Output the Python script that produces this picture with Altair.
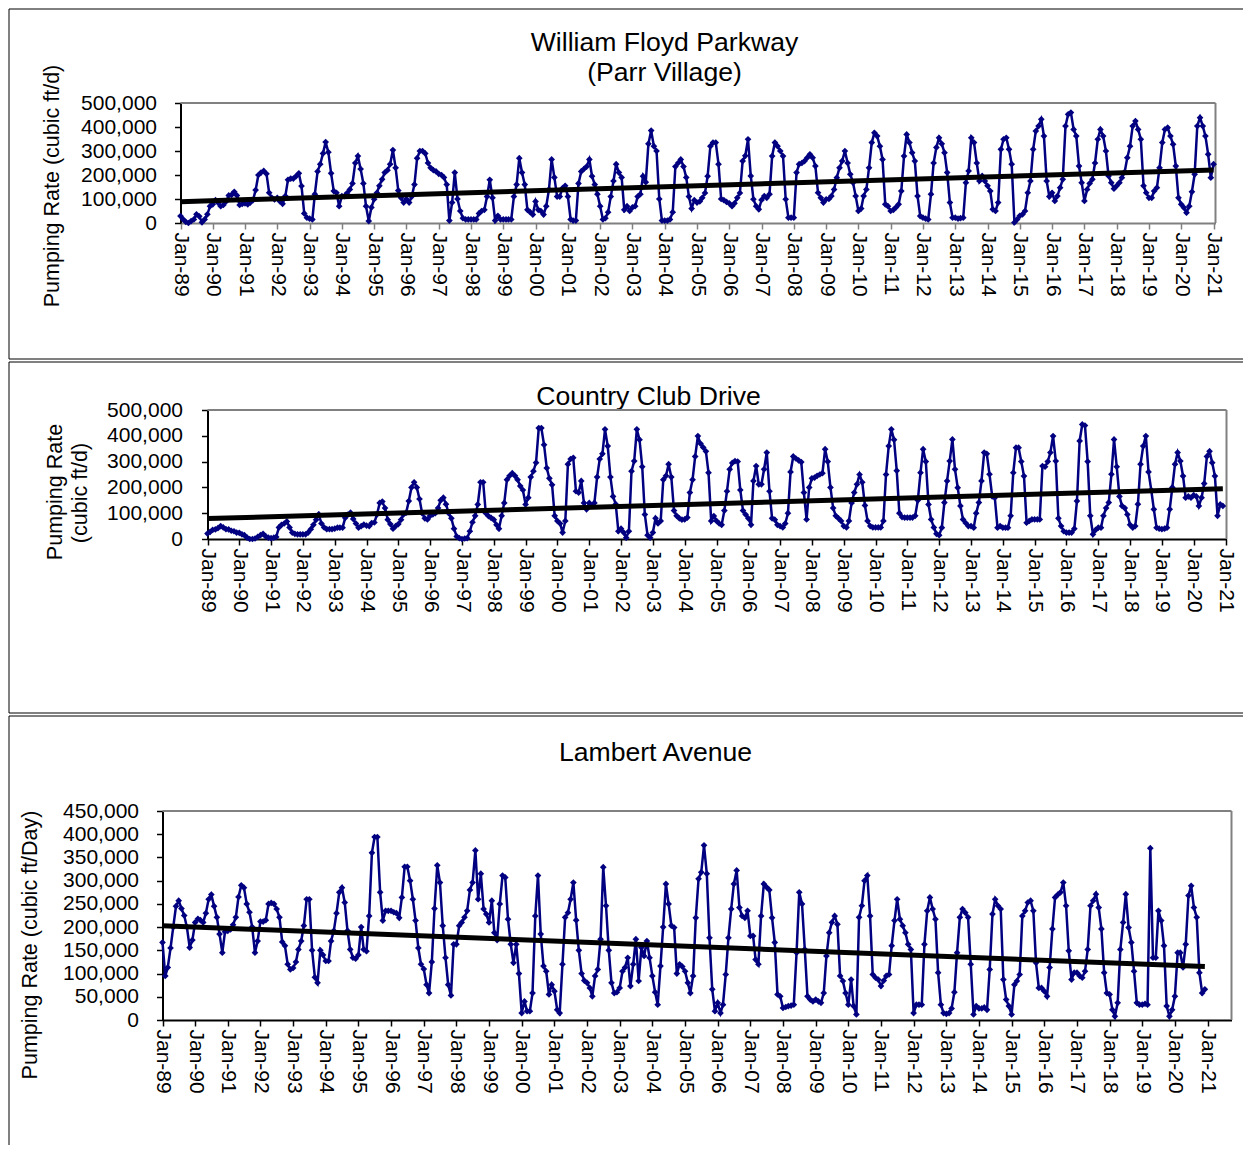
import altair as alt
import pandas as pd

FONT = "Liberation Sans"
NAVY = "#000080"

# ---------------- data (thousand cubic ft/d, one row per year, Jan..Dec) ----------------
wfp_rates = [
    [29, 15, 5, 0, 8, 15, 36, 28, 3, 15, 36, 70],            # 1989
    [78, 95, 85, 70, 75, 90, 115, 117, 130, 115, 75, 80],
    [82, 78, 85, 95, 137, 200, 210, 217, 205, 126, 105, 98],
    [105, 90, 80, 112, 180, 185, 185, 195, 207, 154, 40, 22],
    [18, 15, 120, 215, 245, 290, 337, 295, 207, 133, 126, 70],
    [112, 112, 125, 140, 165, 250, 279, 225, 165, 70, 8, 65],
    [99, 126, 155, 182, 210, 220, 245, 304, 230, 135, 105, 85],
    [100, 85, 110, 160, 270, 300, 300, 290, 250, 230, 220, 215],
    [205, 200, 190, 160, 10, 85, 210, 100, 50, 20, 15, 15],
    [15, 15, 15, 40, 50, 55, 110, 180, 105, 10, 30, 15],
    [15, 15, 15, 15, 110, 160, 270, 210, 160, 55, 45, 35],
    [90, 55, 50, 35, 70, 140, 265, 190, 110, 110, 145, 155],  # 2000
    [110, 15, 10, 10, 165, 215, 225, 235, 265, 195, 160, 120],
    [70, 15, 20, 45, 110, 175, 245, 210, 190, 55, 70, 50],
    [65, 70, 110, 120, 195, 170, 330, 385, 320, 300, 100, 10],
    [10, 10, 15, 45, 235, 250, 265, 235, 190, 110, 60, 95],
    [85, 90, 105, 125, 195, 320, 335, 335, 245, 100, 95, 88],
    [82, 70, 82, 105, 125, 258, 280, 349, 196, 99, 70, 57],
    [96, 112, 105, 120, 279, 335, 320, 300, 279, 99, 22, 22],
    [22, 210, 245, 250, 258, 272, 286, 272, 237, 126, 105, 85],
    [99, 100, 112, 140, 189, 230, 258, 300, 250, 203, 168, 112],
    [50, 60, 112, 140, 230, 335, 376, 362, 320, 265, 78, 70],  # 2010
    [50, 55, 65, 78, 133, 279, 369, 335, 293, 258, 112, 29],
    [22, 18, 15, 120, 250, 315, 355, 330, 293, 210, 85, 22],
    [22, 18, 20, 22, 168, 217, 355, 335, 250, 175, 196, 175],
    [155, 133, 57, 50, 85, 307, 349, 355, 307, 245, 2, 15],
    [30, 36, 50, 126, 175, 307, 383, 404, 432, 362, 175, 110],
    [126, 92, 112, 147, 182, 404, 453, 460, 390, 362, 237, 168],
    [92, 140, 165, 182, 250, 349, 390, 362, 300, 196, 168, 143],
    [155, 168, 189, 212, 272, 320, 404, 425, 390, 349, 155, 126],
    [105, 105, 133, 147, 230, 335, 390, 397, 362, 328, 237, 105],
    [78, 64, 43, 70, 130, 203, 404, 439, 404, 362, 286, 189],  # 2020
    [245],                                                    # Jan 2021
]

ccd_rates = [
    [21, 28, 35, 37, 42, 50, 45, 38, 37, 32, 30, 25],          # 1989
    [24, 18, 15, 5, 0, 0, 2, 8, 15, 20, 10, 5],
    [3, 5, 8, 45, 55, 60, 68, 45, 25, 20, 18, 18],
    [18, 18, 25, 38, 55, 75, 96, 60, 45, 38, 38, 38],
    [40, 44, 44, 44, 82, 95, 102, 78, 60, 44, 50, 56],
    [52, 50, 62, 64, 95, 140, 145, 120, 75, 58, 40, 50],
    [58, 75, 95, 102, 147, 200, 220, 200, 155, 100, 80, 76],
    [90, 95, 100, 120, 150, 160, 135, 100, 80, 40, 10, 3],
    [0, 2, 3, 30, 65, 90, 134, 220, 220, 100, 89, 82],
    [75, 55, 40, 90, 140, 230, 245, 255, 245, 230, 205, 190],
    [134, 160, 240, 263, 296, 430, 430, 365, 275, 235, 210, 90],
    [70, 60, 25, 70, 290, 310, 315, 185, 180, 225, 140, 115],  # 2000
    [140, 130, 140, 240, 310, 330, 425, 360, 240, 165, 135, 30],
    [40, 25, 5, 30, 263, 302, 425, 385, 280, 95, 15, 5],
    [25, 80, 60, 70, 230, 245, 290, 240, 110, 90, 80, 75],
    [76, 83, 180, 230, 320, 399, 370, 355, 340, 257, 70, 89],
    [70, 60, 55, 110, 185, 270, 295, 302, 300, 190, 110, 95],
    [80, 55, 225, 283, 212, 212, 270, 335, 185, 80, 75, 55],
    [50, 45, 60, 100, 260, 320, 312, 305, 298, 180, 76, 200],
    [235, 238, 245, 250, 255, 348, 300, 200, 120, 90, 80, 70],
    [50, 45, 70, 140, 180, 212, 250, 220, 130, 70, 50, 45],
    [45, 45, 45, 70, 250, 360, 425, 385, 265, 100, 85, 83],    # 2010
    [83, 83, 83, 90, 150, 257, 348, 300, 134, 76, 45, 20],
    [15, 44, 141, 225, 302, 386, 270, 199, 128, 76, 62, 50],
    [50, 44, 100, 141, 225, 335, 330, 251, 165, 160, 44, 50],
    [44, 44, 44, 90, 257, 354, 354, 300, 244, 63, 70, 76],
    [76, 76, 76, 283, 280, 300, 335, 399, 302, 80, 50, 30],
    [25, 25, 25, 40, 147, 380, 444, 440, 300, 90, 18, 35],
    [44, 44, 90, 120, 141, 251, 386, 280, 165, 128, 120, 95],
    [55, 44, 50, 135, 290, 360, 399, 260, 190, 115, 44, 40],
    [38, 40, 44, 115, 200, 290, 335, 302, 244, 160, 165, 160],
    [170, 165, 128, 160, 215, 320, 340, 296, 244, 90, 134, 128],  # 2020
]

lam_rates = [
    [167, 95, 113, 155, 200, 245, 257, 240, 225, 200, 156, 172],  # 1989
    [210, 218, 215, 210, 230, 260, 270, 245, 221, 185, 145, 190],
    [192, 195, 205, 221, 265, 290, 285, 250, 232, 200, 145, 170],
    [212, 212, 215, 250, 252, 250, 239, 221, 168, 160, 120, 109],
    [112, 125, 152, 170, 203, 260, 260, 150, 92, 80, 150, 140],
    [127, 127, 170, 192, 230, 275, 285, 253, 192, 152, 134, 132],
    [140, 200, 152, 148, 224, 360, 394, 394, 275, 214, 235, 235],
    [235, 232, 230, 220, 264, 330, 330, 300, 260, 214, 155, 120],
    [110, 76, 58, 125, 240, 333, 296, 203, 134, 76, 53, 163],
    [163, 203, 210, 221, 235, 280, 296, 365, 260, 315, 239, 228],
    [210, 257, 188, 172, 250, 311, 307, 217, 163, 123, 163, 100],
    [15, 40, 19, 19, 58, 224, 311, 185, 116, 105, 55, 76],       # 2000
    [62, 22, 15, 120, 221, 231, 260, 296, 215, 150, 100, 85],
    [80, 69, 51, 95, 109, 174, 329, 246, 150, 80, 58, 60],
    [69, 105, 113, 134, 73, 120, 174, 84, 156, 138, 170, 134],
    [95, 60, 33, 116, 200, 293, 250, 203, 199, 100, 120, 115],
    [105, 80, 58, 95, 220, 304, 318, 376, 315, 177, 66, 19],
    [37, 15, 33, 98, 177, 239, 293, 322, 242, 224, 220, 235],
    [181, 181, 130, 120, 224, 293, 286, 280, 220, 167, 55, 51],
    [26, 28, 30, 31, 33, 145, 275, 250, 152, 51, 44, 40],
    [44, 40, 37, 58, 138, 188, 210, 224, 206, 95, 84, 58],
    [33, 87, 30, 12, 221, 246, 300, 311, 224, 98, 91, 87],       # 2010
    [73, 85, 95, 98, 160, 214, 260, 217, 203, 188, 163, 152],
    [15, 33, 33, 33, 163, 235, 264, 239, 217, 102, 33, 15],
    [13, 15, 25, 60, 145, 221, 239, 231, 221, 120, 12, 30],
    [25, 25, 27, 22, 109, 228, 260, 246, 239, 87, 44, 30],
    [12, 76, 84, 98, 224, 235, 253, 257, 235, 123, 69, 69],
    [62, 51, 113, 196, 264, 270, 275, 296, 246, 149, 87, 102],
    [102, 95, 91, 105, 152, 246, 257, 271, 242, 196, 102, 58],
    [55, 22, 8, 37, 152, 210, 271, 199, 167, 105, 37, 33],
    [33, 35, 33, 370, 134, 134, 235, 214, 160, 30, 8, 22],
    [51, 145, 145, 113, 163, 268, 289, 242, 221, 102, 58, 66],   # 2020
]

# trend lines (start / end)
wfp_trend_dates = ["1989-01-01", "2021-01-01"]
wfp_trend_vals = [89000, 221000]
ccd_trend_dates = ["1989-01-01", "2020-12-01"]
ccd_trend_vals = [79000, 195000]
lam_trend_dates = ["1989-01-01", "2020-12-01"]
lam_trend_vals = [203000, 115000]

wfp_yticks = [0, 100000, 200000, 300000, 400000, 500000]
ccd_yticks = [0, 100000, 200000, 300000, 400000, 500000]
lam_yticks = [0, 50000, 100000, 150000, 200000, 250000, 300000, 350000, 400000, 450000]
tick_years = list(range(1989, 2022))

wfp_title = ["William Floyd Parkway", "(Parr Village)"]
ccd_title = "Country Club Drive"
lam_title = "Lambert Avenue"
wfp_ytitle = "Pumping Rate (cubic ft/d)"
ccd_ytitle = ["Pumping Rate", "(cubic ft/d)"]
lam_ytitle = "Pumping Rate (cubic ft/Day)"

TICK_FS = 21
AXTITLE_FS = 21.5
TITLE_FS = 26.6
FRAME = "#808080"
BOX_LEFT = -154
BOX_RIGHT = 1080


# ---------------- helpers ----------------
def series(rows):
    vals = [v * 1000 for row in rows for v in row]
    dates = pd.date_range("1989-01-01", periods=len(vals), freq="MS")
    return pd.DataFrame({"date": dates, "rate": vals})


def trend(dates, vals):
    return pd.DataFrame({"date": pd.to_datetime(dates), "rate": vals})


ONE = pd.DataFrame({"k": [0]})


def rule(x1, x2, y1, y2, color="black", width=1):
    return alt.Chart(ONE).mark_rule(color=color, strokeWidth=width).encode(
        x=alt.value(x1), x2=alt.value(x2), y=alt.value(y1), y2=alt.value(y2)
    )


def label(text, x, y, size, angle=0):
    return alt.Chart(ONE).mark_text(
        text=text, font=FONT, fontSize=size, color="black",
        align="center", baseline="middle", angle=angle,
    ).encode(x=alt.value(x), y=alt.value(y))


year_values = [alt.DateTime(year=y, month=1, date=1) for y in tick_years]


def panel(rows, tdates, tvals, left, right, h, x_end, yticks, xdom_color, xtick_color, lab_pad, decorations):
    # every panel shares the same group origin; its plot spans [left, right]
    x = alt.X(
        "date:T",
        scale=alt.Scale(domain=[alt.DateTime(year=1989, month=1, date=1), x_end], range=[left, right]),
        axis=alt.Axis(
            values=year_values, format="%b-%y", labelAngle=90,
            labelFont=FONT, labelFontSize=TICK_FS, labelColor="black",
            labelOverlap=False, labelFlush=False, labelPadding=3,
            tickColor=xtick_color, tickSize=6, tickWidth=1.5,
            domainColor=xdom_color, domainWidth=2, grid=False, title=None,
        ),
    )
    y = alt.Y(
        "rate:Q",
        scale=alt.Scale(domain=[0, yticks[-1]], nice=False),
        axis=alt.Axis(
            values=yticks, format=",d", offset=-left,
            labelFont=FONT, labelFontSize=TICK_FS, labelColor="black",
            labelPadding=lab_pad, tickColor="black", tickSize=6, tickWidth=1.5,
            domainColor="black", domainWidth=2, grid=False, title=None,
        ),
    )
    frame = [rule(left, right, 0, 0, FRAME, 2), rule(right, right, 0, h, FRAME, 2)]
    line = alt.Chart(series(rows)).mark_line(
        color=NAVY, strokeWidth=2.5,
        point=alt.OverlayMarkDef(shape="diamond", filled=True, size=45, color=NAVY),
    ).encode(x=x, y=y)
    tr = alt.Chart(trend(tdates, tvals)).mark_line(
        color="black", strokeWidth=5
    ).encode(x=x, y=y)
    return alt.layer(*decorations, *frame, line, tr).properties(width=right - left, height=h)


# ---------------- panels ----------------
p1 = panel(
    wfp_rates, wfp_trend_dates, wfp_trend_vals, 17.5, 1052.5, 120,
    alt.DateTime(year=2021, month=1, date=23), wfp_yticks, FRAME, FRAME, 18,
    [
        rule(BOX_LEFT, BOX_RIGHT, -94, -94), rule(BOX_LEFT, BOX_LEFT, -94, 256),
        rule(BOX_LEFT, BOX_RIGHT, 256, 256),
        label(wfp_title[0], 501.5, -60, TITLE_FS), label(wfp_title[1], 501.5, -30, TITLE_FS),
        label(wfp_ytitle, -110.5, 83, AXTITLE_FS, 270),
    ],
)

p2 = panel(
    ccd_rates, ccd_trend_dates, ccd_trend_vals, 44.5, 1063.5, 129,
    alt.DateTime(year=2021, month=1, date=12), ccd_yticks, "black", "black", 19,
    [
        rule(BOX_LEFT, BOX_RIGHT, -48, -48), rule(BOX_LEFT, BOX_LEFT, -48, 303),
        rule(BOX_LEFT, BOX_RIGHT, 303, 303),
        label(ccd_title, 485.5, -13, TITLE_FS),
        label(ccd_ytitle[0], -107.5, 82, AXTITLE_FS, 270),
        label(ccd_ytitle[1], -82.5, 83, AXTITLE_FS, 270),
    ],
)

p3 = panel(
    lam_rates, lam_trend_dates, lam_trend_vals, -0.5, 1068.5, 209,
    alt.DateTime(year=2021, month=9, date=25), lam_yticks, "black", "black", 18,
    [
        rule(BOX_LEFT, BOX_RIGHT, -95, -95), rule(BOX_LEFT, BOX_LEFT, -95, 334),
        label(lam_title, 492.5, -58, TITLE_FS),
        label(lam_ytitle, -132.5, 134, AXTITLE_FS, 270),
    ],
)

chart = (
    alt.vconcat(p1, p2, p3, spacing=1)
    .properties(padding=0)
    .configure_view(strokeWidth=0)
)

chart.save("out.html", embed_options={"renderer": "svg", "actions": False})
